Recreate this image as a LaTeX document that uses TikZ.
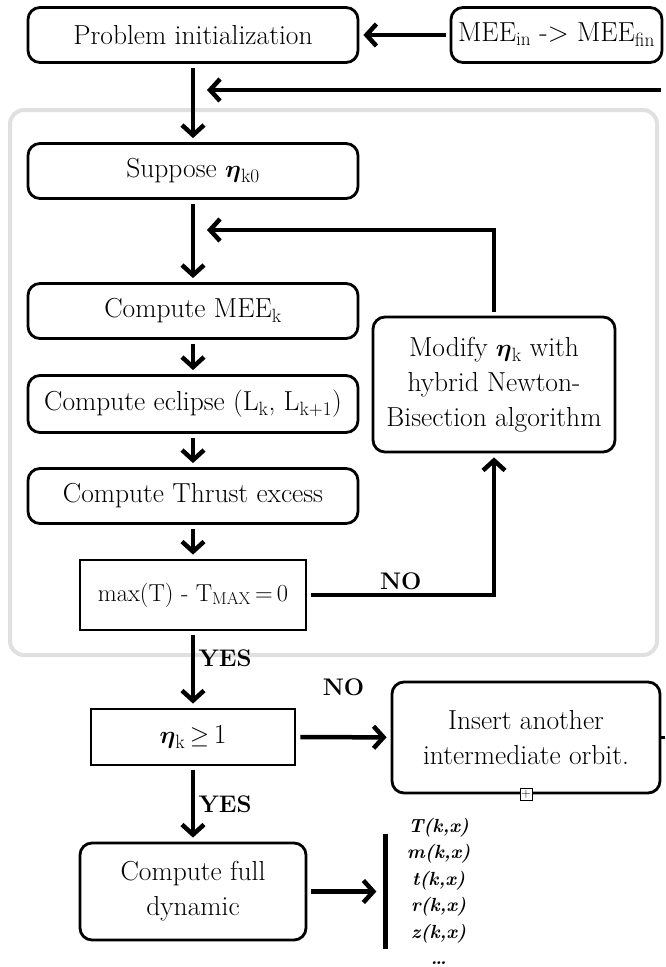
\documentclass[tikz,border=0pt]{standalone}
\usepackage{amsmath}
\usepackage{amssymb}
\usepackage{bm}
\usetikzlibrary{positioning,calc,arrows.meta}
\tikzstyle{block} = [draw, rectangle, rounded corners=12pt, line width=2.8pt, minimum width=330pt, minimum height=55pt, inner sep=2pt, align=center]
\tikzstyle{test} = [draw, rectangle, line width=2.8pt, minimum width=226pt, minimum height=70pt, inner sep=2pt]
\tikzstyle{to} = [-{Straight Barb[length=10pt,width=22pt]}, line width=4.5pt, shorten <=4pt, shorten >=4pt]
\tikzstyle{lbl} = [font=\fontsize{24}{28}\selectfont\bfseries]
\newcommand{\etab}{\boldsymbol{\eta}}

\begin{document}
\begin{tikzpicture}[x=1pt, y=-1pt, font=\fontsize{27.5}{35}\selectfont]
\useasboundingbox (0,0) rectangle (665,967);
\node (loop) [draw=black!12, line width=4pt, rounded corners=14pt, minimum width=647pt, minimum height=545pt] at (333.5,382.5) {};
\node (init) [block] at (193,35) {Problem initialization};
\node (mee) [block, minimum width=211pt] at (556.5,35) {MEE\textsubscript{in} -> MEE\textsubscript{fin}};
\node (suppose) [block] at (193,171) {Suppose $\etab$\textsubscript{k0}};
\node (meek) [block] at (193,311) {Compute MEE\textsubscript{k}};
\node (eclipse) [block, minimum height=57pt] at (193,404) {Compute eclipse (L\textsubscript{k}, L\textsubscript{k+1})};
\node (thrust) [block] at (193,496) {Compute Thrust excess};
\node (maxt) [test, font=\fontsize{24.5}{30}\selectfont] at (193,595) {max(T) - T\textsubscript{MAX}\,=\,0};
\node (modify) [block, minimum width=242pt, minimum height=135pt] at (494,384.5) {Modify $\etab$\textsubscript{k} with\\hybrid Newton-\\Bisection algorithm};
\node (etak) [test, minimum width=204pt, minimum height=56pt] at (193,737) {$\etab$\textsubscript{k}\,$\geq$\,1};
\node (insert) [block, minimum width=268pt, minimum height=111pt] at (526,737.5) {Insert another\\intermediate orbit.};
\node (full) [block, minimum width=226pt, minimum height=97pt] at (193,891.5) {Compute full\\dynamic};
\node (outs) [right=78pt of full, align=center, inner sep=0pt, minimum width=106pt, font=\fontsize{19}{26.5}\selectfont\bfseries\itshape] {T(k,x)\\m(k,x)\\t(k,x)\\r(k,x)\\z(k,x)\\\dots};
\node (plus) [draw, line width=0.9pt, fill=white, minimum size=12pt, inner sep=0pt, font=\fontsize{13}{13}\selectfont] at (insert.south) {+};
\coordinate (rin) at (665,90);
\coordinate (join1) at (203,90);
\coordinate (join2) at (203,230);
\coordinate (rout) at (665,737.5);
\draw[to] (mee) -- (init);
\draw[to] (init) -- (suppose);
\draw[to] (rin) -- (join1);
\draw[to] (suppose) -- (meek);
\draw[to] (modify) |- (join2);
\draw[to] (meek) -- (eclipse);
\draw[to] (eclipse) -- (thrust);
\draw[to] (thrust) -- (maxt);
\draw[to] (maxt) -| node[lbl, pos=0.25, above] {NO} (modify);
\draw[to] (maxt) -- node[lbl, right, pos=0.35] {YES} (etak);
\draw[to] (etak) -- node[lbl, above=36pt] {NO} (insert);
\draw[to] (etak) -- node[lbl, right] {YES} (full);
\draw[to, shorten >=9pt] (full) -- (outs);
\draw[line width=4.5pt] ([yshift=58pt]outs.west) -- ([yshift=-57pt]outs.west);
\draw[line width=2.8pt] (insert) -- (rout);
\end{tikzpicture}
\end{document}
